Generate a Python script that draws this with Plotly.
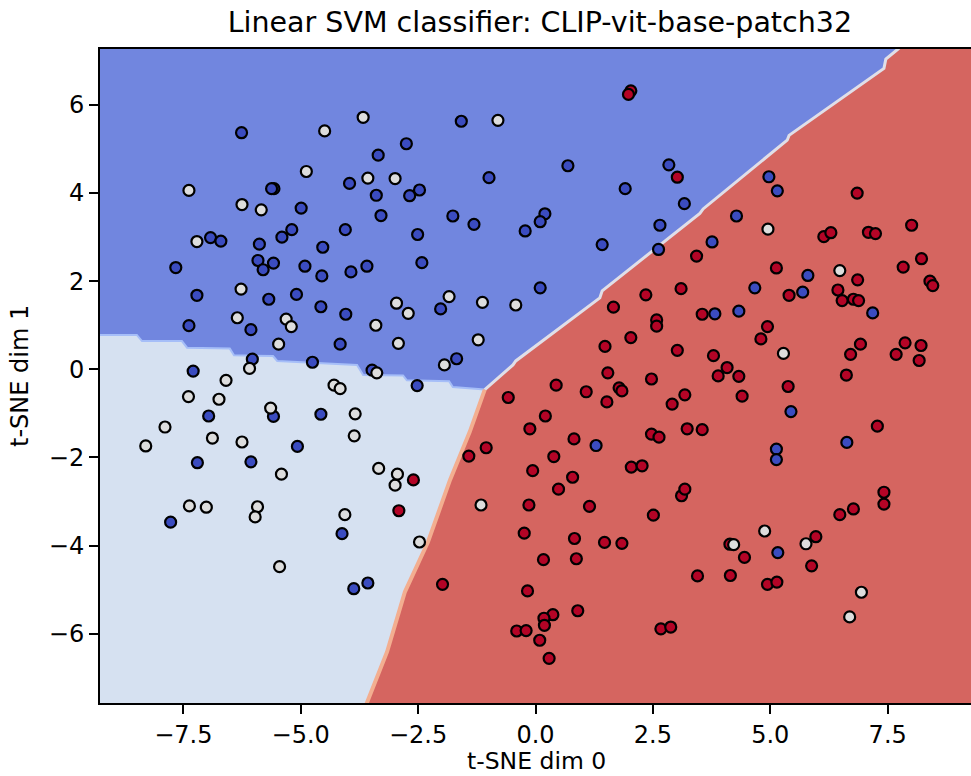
import plotly.graph_objects as go

# ---------------- data ----------------
blue_x = [-6.26, -3.35, -3.96, -5.57, -5.62, -3.39, -4.99, -3.29, -5.19, -5.40, -4.05, -6.92, -6.70, -5.88,
          -4.53, -7.66, -5.91, -5.80, -5.58, -4.91, -3.93, -3.59, -4.55, -7.21, -5.68, -5.09, -4.57, -4.04,
          -7.38, -6.06, -4.16, -6.03, -4.75, -3.48, -7.29, -5.58, -4.57, -6.96, -5.07, -7.20, -6.06, -7.77,
          -4.12, -3.57, -3.87, -2.42, 0.10, -2.02, -1.68, -2.52, 1.29, -1.58, -2.75, 0.69, 2.84, -0.99,
          1.91, -2.47, -2.68, 3.17, -1.76, -1.31, 0.20, 0.10, -0.22, 1.42, 2.65, 2.62, -2.51, 4.97,
          5.15, 4.28, 3.76, 5.80, 4.67, 5.69, 3.82, 4.33, 7.18, 5.44, 5.13, 5.13, 6.63, 5.16]
blue_y = [5.37, 4.86, 4.22, 4.10, 4.10, 3.95, 3.66, 3.49, 3.17, 3.00, 3.17, 2.99, 2.91, 2.84,
          2.77, 2.31, 2.47, 2.26, 2.41, 2.34, 2.21, 2.34, 2.12, 1.68, 1.59, 1.70, 1.42, 1.25,
          0.99, 0.90, 0.57, 0.23, 0.16, -0.02, -0.04, -1.07, -1.02, -1.06, -1.75, -2.12, -2.10, -3.47,
          -3.73, -4.85, -4.98, 2.42, 1.85, 1.37, 0.24, -0.37, -1.73, 5.63, 5.12, 4.62, 4.64, 4.35,
          4.10, 4.07, 3.94, 3.76, 3.48, 3.29, 3.53, 3.35, 3.14, 2.83, 3.27, 2.72, 3.06, 4.37,
          4.05, 3.48, 2.89, 2.13, 1.85, 1.75, 1.26, 1.32, 1.28, -0.96, -1.81, -2.05, -1.66, -4.16]

light_x = [-3.67, -4.49, -4.88, -3.57, -2.99, -7.38, -6.25, -5.84, -7.21, -6.27, -6.35, -5.31, -5.20,
           -5.47, -6.09, -6.59, -3.40, -3.38, -7.39, -6.74, -4.29, -4.16, -5.64, -3.84, -7.89, -6.88,
           -6.25, -3.86, -8.30, -5.41, -3.34, -2.99, -2.94, -7.37, -7.01, -5.92, -5.97, -4.06, -5.45,
           -2.47, -2.96, -2.71, -1.84, -1.13, -0.42, -2.92, -1.22, -1.94, -0.80, -1.16, 4.95, 6.48,
           5.28, 4.88, 4.22, 5.76, 6.94, 6.69]
light_y = [5.72, 5.41, 4.49, 4.34, 4.33, 4.06, 3.74, 3.62, 2.90, 1.82, 1.17, 1.14, 0.97,
           0.57, 0.02, -0.25, 1.00, -0.08, -0.62, -0.68, -0.36, -0.44, -0.88, -1.01, -1.31, -1.56,
           -1.65, -1.51, -1.74, -2.38, -2.25, -2.63, -2.38, -3.10, -3.13, -3.12, -3.35, -3.30, -4.48,
           -3.92, 1.50, 1.27, 1.65, 1.52, 1.46, 0.59, 0.67, 0.10, 5.65, -3.08, 3.18, 2.24,
           0.36, -3.67, -3.98, -3.96, -5.06, -5.62]

red_x = [2.03, 1.98, 3.02, 6.85, 6.14, 6.29, 7.09, 7.24, 8.01, 3.43, 8.22, 5.13, 7.83, 6.86, 8.40,
         8.46, 3.10, 5.40, 6.44, 6.53, 6.77, 6.88, 2.35, 1.66, 2.58, 2.58, 3.55, 2.03, 1.48, 3.02,
         4.94, 4.80, 3.79, 4.08, 3.89, 4.33, 3.18, 4.40, 5.38, 6.92, 6.71, 6.62, 7.87, 8.21, 7.68,
         8.17, 7.28, 3.23, 3.55, 1.54, 2.47, 0.44, 1.08, 1.78, 1.84, 1.52, -0.58, 2.91, 0.21, -0.12,
         0.82, 2.47, 2.63, -1.05, -1.42, 0.39, -0.06, 0.79, 2.04, 2.27, 0.49, -2.60, -2.91, -0.14,
         1.15, 2.51, 3.11, 3.18, -0.24, 0.83, 1.47, 1.84, 0.17, 0.87, -1.98, -0.17, 0.90, 0.37,
         0.18, 0.19, -0.40, -0.20, 0.09, 0.29, 2.67, 2.88, 7.42, 7.42, 6.77, 6.48, 4.14, 5.97,
         4.45, 5.88, 3.45, 4.15, 4.94, 5.14]
red_y = [6.32, 6.24, 4.36, 4.00, 3.01, 3.10, 3.11, 3.08, 3.27, 2.57, 2.51, 2.30, 2.32, 2.03, 2.00,
         1.90, 1.83, 1.68, 1.80, 1.56, 1.59, 1.56, 1.69, 1.41, 1.12, 0.98, 1.25, 0.72, 0.52, 0.43,
         0.97, 0.69, 0.31, 0.04, -0.15, -0.16, -0.58, -0.61, -0.39, 0.57, 0.34, -0.13, 0.60, 0.54, 0.34,
         0.20, -1.29, -1.35, -1.37, -0.08, -0.22, -0.36, -0.51, -0.42, -0.49, -0.74, -0.64, -0.79, -1.06, -1.35,
         -1.58, -1.47, -1.54, -1.78, -1.97, -1.98, -2.30, -2.45, -2.22, -2.19, -2.72, -2.51, -3.21, -3.08,
         -3.11, -3.31, -2.87, -2.72, -3.72, -3.84, -3.93, -3.95, -4.32, -4.30, -4.88, -5.03, -5.48, -5.57,
         -5.65, -5.81, -5.94, -5.93, -6.15, -6.56, -5.89, -5.85, -2.79, -3.06, -3.17, -3.30, -3.97, -3.80,
         -4.27, -4.46, -4.69, -4.68, -4.88, -4.83]

# decision-region boundaries, each ends at the common corner
blue_light_x = [-9.60, -8.49, -8.38, -7.53, -7.42, -6.51, -6.42, -5.59, -5.50, -3.80, -3.67, -2.82, -2.74, -1.84, -1.76, -1.08]
blue_light_y = [0.78, 0.78, 0.64, 0.64, 0.49, 0.47, 0.32, 0.30, 0.19, 0.10, -0.13, -0.14, -0.25, -0.27, -0.40, -0.46]
blue_red_x = [-1.08, -0.48, -0.42, 1.37, 1.42, 3.50, 3.57, 5.36, 5.40, 7.42, 7.46, 7.72, 8.05]
blue_red_y = [-0.46, 0.10, 0.19, 1.62, 1.78, 3.54, 3.64, 5.20, 5.31, 6.83, 7.04, 7.27, 7.60]
light_red_x = [-1.08, -1.40, -1.82, -2.29, -2.78, -3.16, -3.59, -3.71]
light_red_y = [-0.46, -1.42, -2.51, -3.92, -5.05, -6.41, -7.57, -7.90]

x_ticks = [-7.5, -5.0, -2.5, 0.0, 2.5, 5.0, 7.5]
y_ticks = [-6, -4, -2, 0, 2, 4, 6]

X_RANGE = [-9.274, 9.274]
Y_RANGE = [-7.574, 7.27]

# ---------------- styling ----------------
BLUE_REGION = '#7186df'
LIGHT_REGION = '#d6e1f1'
RED_REGION = '#d56560'
BLUE_PT = '#3b4cc0'
LIGHT_PT = '#dddddd'
RED_PT = '#b40426'
FONT = 'DejaVu Sans'

far = 20
fig = go.Figure()

# blue region polygon
bx = [-far] + blue_light_x + blue_red_x + [-far]
by = [far] + blue_light_y + blue_red_y + [far]
fig.add_trace(go.Scatter(x=bx, y=by, mode='lines', fill='toself', fillcolor=BLUE_REGION,
                         line=dict(width=0, color=BLUE_REGION), hoverinfo='skip', showlegend=False))
# light region polygon
lx = [-far] + blue_light_x + light_red_x + [-far]
ly = [blue_light_y[0]] + blue_light_y + light_red_y + [-far]
fig.add_trace(go.Scatter(x=lx, y=ly, mode='lines', fill='toself', fillcolor=LIGHT_REGION,
                         line=dict(width=0, color=LIGHT_REGION), hoverinfo='skip', showlegend=False))

# contour fringes between regions
fig.add_trace(go.Scatter(x=blue_light_x, y=blue_light_y, mode='lines',
                         line=dict(width=2, color='#a6bef8'), hoverinfo='skip', showlegend=False))
fig.add_trace(go.Scatter(x=blue_red_x, y=blue_red_y, mode='lines',
                         line=dict(width=3, color='#e0dfe8'), hoverinfo='skip', showlegend=False))
fig.add_trace(go.Scatter(x=light_red_x, y=light_red_y, mode='lines',
                         line=dict(width=4, color='#f3ae90'), hoverinfo='skip', showlegend=False))

marker_line = dict(color='black', width=2.2)
for xs, ys, col in [(blue_x, blue_y, BLUE_PT), (red_x, red_y, RED_PT), (light_x, light_y, LIGHT_PT)]:
    fig.add_trace(go.Scatter(x=xs, y=ys, mode='markers',
                             marker=dict(size=11, color=col, line=marker_line),
                             hoverinfo='skip', showlegend=False))

axis_common = dict(showgrid=False, zeroline=False, showline=True, linecolor='black', linewidth=2,
                   ticks='outside', ticklen=9, tickwidth=2, tickcolor='black',
                   tickfont=dict(family=FONT, size=24, color='black'))
fig.update_xaxes(range=X_RANGE, tickvals=x_ticks, tickformat='.1f', mirror=True, **axis_common)
fig.update_yaxes(range=Y_RANGE, tickvals=y_ticks, tickformat='d', mirror=False, **axis_common)

fig.update_layout(
    width=971, height=776,
    margin=dict(l=100, r=0, t=49, b=73, pad=0),
    paper_bgcolor='white', plot_bgcolor=RED_REGION,
    title=dict(text='Linear SVM classifier: CLIP-vit-base-patch32',
               font=dict(family=FONT, size=28.5, color='black'),
               x=0.505, xref='paper', xanchor='center',
               y=1 - 22 / 776, yref='container', yanchor='middle'),
    annotations=[
        dict(text='t-SNE dim 0', xref='paper', yref='paper', x=0.5017, y=0,
             xanchor='center', yanchor='middle', yshift=-58, showarrow=False,
             font=dict(family=FONT, size=23.5, color='black')),
        dict(text='t-SNE dim 1', xref='paper', yref='paper', x=0, y=0.5,
             xanchor='center', yanchor='middle', xshift=-80, textangle=-90, showarrow=False,
             font=dict(family=FONT, size=24, color='black')),
    ],
)

fig.write_html("out.html", config={'displayModeBar': False},
               post_script="document.body.style.margin='0';document.body.style.overflow='hidden';")
